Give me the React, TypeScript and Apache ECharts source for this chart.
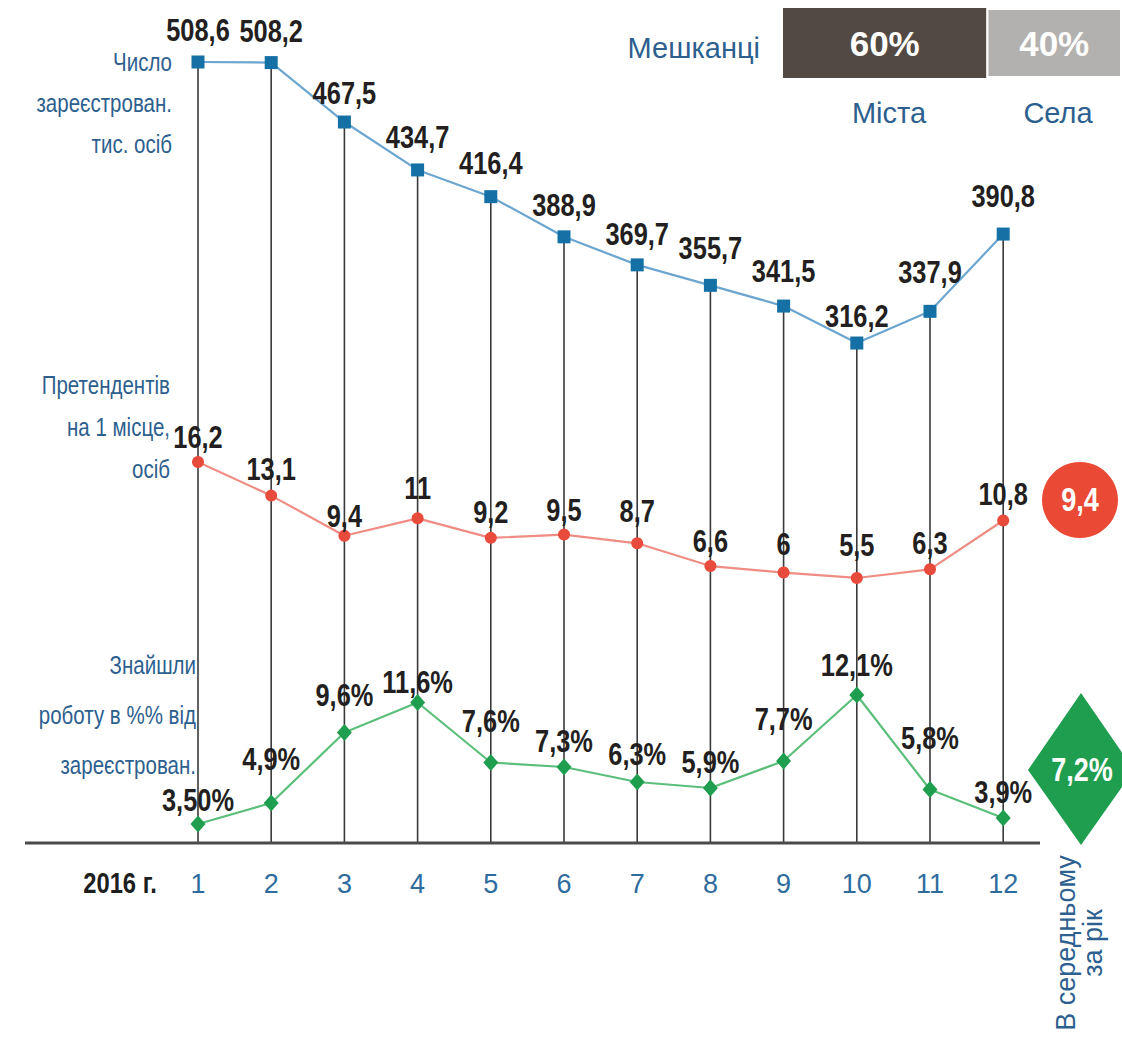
import React, { useEffect, useRef } from "react";
import * as echarts from "echarts";

// ---- data ----
const months = ["1", "2", "3", "4", "5", "6", "7", "8", "9", "10", "11", "12"];
const registered = [508.6, 508.2, 467.5, 434.7, 416.4, 388.9, 369.7, 355.7, 341.5, 316.2, 337.9, 390.8];
const applicants = [16.2, 13.1, 9.4, 11, 9.2, 9.5, 8.7, 6.6, 6, 5.5, 6.3, 10.8];
const employed = [3.5, 4.9, 9.6, 11.6, 7.6, 7.3, 6.3, 5.9, 7.7, 12.1, 5.8, 3.9];
const employedLabels = ["3,50%", "4,9%", "9,6%", "11,6%", "7,6%", "7,3%", "6,3%", "5,9%", "7,7%", "12,1%", "5,8%", "3,9%"];
const residentNames = ["Міста", "Села"];
const residentShares = [60, 40];
const applicantsAvg = "9,4";
const employedAvg = "7,2%";

// ---- layout (styling, not data) ----
const blueLift = [32, 32, 29, 33, 34, 32, 31, 37, 35, 27, 39, 38];
const redLift = [25, 27, 20, 30, 26, 25, 32, 25, 28, 33, 26, 26];
const greenLift = [24, 44, 37, 20, 41, 26, 28, 26, 42, 30, 51, 26];
const SANS = '"Liberation Sans", Arial, sans-serif';
const BLUE_TXT = "#2d5f8f";
const SQUEEZE = 0.82;

const fmt = (v: number) => String(v).replace(".", ",");

const labelSeries = (yAxisIndex: number, values: number[], texts: string[], lifts: number[]) => ({
  type: "custom",
  xAxisIndex: 0,
  yAxisIndex,
  z: 10,
  silent: true,
  data: values.map((v, i) => [i, v]),
  encode: { x: 0, y: 1 },
  renderItem: (params: any, api: any) => {
    const i = params.dataIndex;
    const p = api.coord([api.value(0), api.value(1)]);
    return {
      type: "text",
      x: p[0],
      y: p[1] - lifts[i],
      scaleX: SQUEEZE,
      style: {
        text: texts[i],
        fill: "#231f20",
        font: `bold 31px ${SANS}`,
        textAlign: "center",
        textVerticalAlign: "middle",
      },
    };
  },
});

export default function App() {
  const ref = useRef<HTMLDivElement>(null);
  useEffect(() => {
    document.body.style.margin = "0";
    const chart = echarts.init(ref.current!, null, { renderer: "svg" });
    const option: any = {
      animation: false,
      backgroundColor: "#ffffff",
      grid: [
        { left: 161.4, top: 40, width: 878.4, height: 803, outerBoundsMode: "none" },
        { left: 783, top: 8, width: 339, height: 70, outerBoundsMode: "none" },
      ],
      xAxis: [
        {
          type: "category",
          gridIndex: 0,
          data: months,
          boundaryGap: true,
          axisLine: { show: false },
          axisTick: { show: false },
          splitLine: { show: false },
          axisLabel: { color: "#2e6c9e", fontSize: 27, fontFamily: SANS, margin: 27 },
        },
        { type: "value", gridIndex: 1, min: 0, max: 100, show: false },
      ],
      yAxis: [
        { type: "value", gridIndex: 0, min: -26.1, max: 523.66, show: false },
        { type: "value", gridIndex: 0, min: -18.95, max: 55.13, show: false },
        { type: "value", gridIndex: 0, min: 2.233, max: 55.77, show: false },
        { type: "category", gridIndex: 1, data: ["Мешканці"], show: false },
      ],
      series: [
        {
          type: "custom",
          xAxisIndex: 0,
          yAxisIndex: 0,
          z: 1,
          silent: true,
          data: registered.map((v, i) => [i, v]),
          encode: { x: 0, y: 1 },
          renderItem: (params: any, api: any) => {
            const p = api.coord([api.value(0), api.value(1)]);
            const cs = params.coordSys;
            return {
              type: "line",
              shape: { x1: p[0], y1: p[1], x2: p[0], y2: cs.y + cs.height },
              style: { stroke: "#3a3a3a", lineWidth: 1.6 },
            };
          },
        },
        {
          type: "line",
          xAxisIndex: 0,
          yAxisIndex: 0,
          z: 3,
          data: registered,
          symbol: "rect",
          symbolSize: 13,
          lineStyle: { color: "#6ca6d0", width: 2.2 },
          itemStyle: { color: "#1570a6" },
        },
        {
          type: "line",
          xAxisIndex: 0,
          yAxisIndex: 1,
          z: 3,
          data: applicants,
          symbol: "circle",
          symbolSize: 12,
          lineStyle: { color: "#ef8c84", width: 2.2 },
          itemStyle: { color: "#e84b3c" },
        },
        {
          type: "line",
          xAxisIndex: 0,
          yAxisIndex: 2,
          z: 3,
          data: employed,
          symbol: "diamond",
          symbolSize: [15, 17],
          lineStyle: { color: "#5bbf7b", width: 2.2 },
          itemStyle: { color: "#1f9e4f" },
        },
        labelSeries(0, registered, registered.map(fmt), blueLift),
        labelSeries(1, applicants, applicants.map(fmt), redLift),
        labelSeries(2, employed, employedLabels, greenLift),
        ...residentShares.map((v, i) => ({
          type: "bar",
          xAxisIndex: 1,
          yAxisIndex: 3,
          stack: "res",
          barWidth: 70,
          name: residentNames[i],
          data: [v],
          itemStyle: { color: i === 0 ? "#524943" : "#b3b1af", borderColor: "#ffffff", borderWidth: i === 0 ? 0 : 2 },
          label: {
            show: true,
            position: "inside",
            formatter: "{c}%",
            color: "#ffffff",
            fontFamily: SANS,
            fontWeight: "bold",
            fontSize: 35,
          },
        })),
      ],
      graphic: [
        { type: "line", shape: { x1: 25, y1: 843, x2: 1040, y2: 843 }, style: { stroke: "#4a4a4a", lineWidth: 3 }, z: 5 },
        {
          type: "text", x: 120, y: 883, scaleX: SQUEEZE,
          style: { text: "2016 г.", fill: "#1e1e1e", font: `bold 29px ${SANS}`, textAlign: "center", textVerticalAlign: "middle" },
        },
        {
          type: "text", x: 172, y: 103, scaleX: 0.82,
          style: { text: "Число\nзареєстрован.\nтис. осіб", fill: BLUE_TXT, font: `25px ${SANS}`, lineHeight: 41, textAlign: "right", textVerticalAlign: "middle" },
        },
        {
          type: "text", x: 170, y: 427, scaleX: 0.82,
          style: { text: "Претендентів\nна 1 місце,\nосіб", fill: BLUE_TXT, font: `25px ${SANS}`, lineHeight: 42, textAlign: "right", textVerticalAlign: "middle" },
        },
        {
          type: "text", x: 196, y: 715, scaleX: 0.82,
          style: { text: "Знайшли\nроботу в %% від\nзареєстрован.", fill: BLUE_TXT, font: `25px ${SANS}`, lineHeight: 50, textAlign: "right", textVerticalAlign: "middle" },
        },
        {
          type: "text", x: 760, y: 48,
          style: { text: "Мешканці", fill: BLUE_TXT, font: `29px ${SANS}`, textAlign: "right", textVerticalAlign: "middle" },
        },
        {
          type: "text", x: 889, y: 113,
          style: { text: residentNames[0], fill: BLUE_TXT, font: `29px ${SANS}`, textAlign: "center", textVerticalAlign: "middle" },
        },
        {
          type: "text", x: 1058, y: 113,
          style: { text: residentNames[1], fill: BLUE_TXT, font: `29px ${SANS}`, textAlign: "center", textVerticalAlign: "middle" },
        },
        { type: "circle", shape: { cx: 1080, cy: 500, r: 38 }, style: { fill: "#ea4a35" } },
        {
          type: "text", x: 1080, y: 500, scaleX: SQUEEZE,
          style: { text: applicantsAvg, fill: "#ffffff", font: `bold 33px ${SANS}`, textAlign: "center", textVerticalAlign: "middle" },
        },
        {
          type: "polygon",
          shape: { points: [[1028, 770], [1081, 693], [1134, 770], [1081, 845]] },
          style: { fill: "#1f9e4f" },
        },
        {
          type: "text", x: 1082, y: 770, scaleX: SQUEEZE,
          style: { text: employedAvg, fill: "#ffffff", font: `bold 33px ${SANS}`, textAlign: "center", textVerticalAlign: "middle" },
        },
        {
          type: "text", x: 1079, y: 943, rotation: Math.PI / 2,
          style: { text: "В середньому\nза рік", fill: BLUE_TXT, font: `27px ${SANS}`, lineHeight: 27, textAlign: "center", textVerticalAlign: "middle" },
        },
      ],
    };
    chart.setOption(option);
    return () => chart.dispose();
  }, []);
  return <div ref={ref} style={{ width: 1122, height: 1051 }} />;
}
